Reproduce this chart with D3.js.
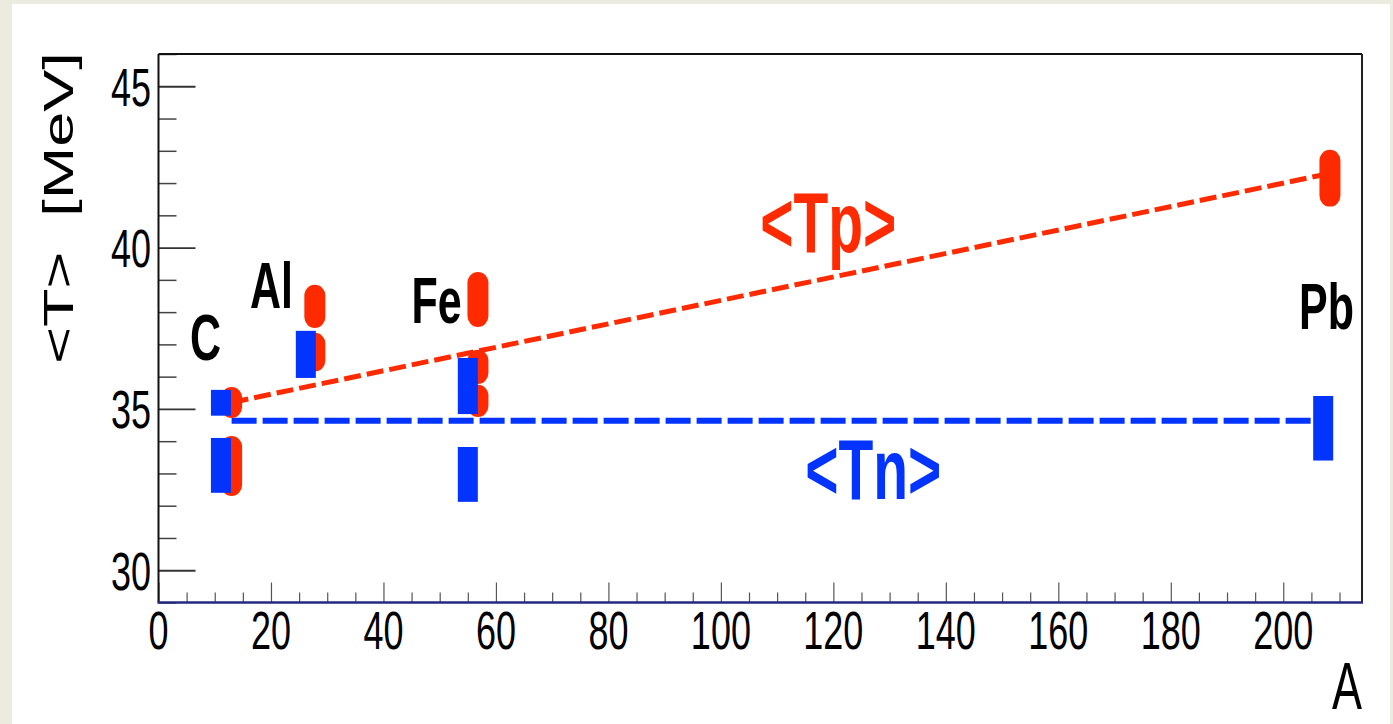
<!DOCTYPE html>
<html>
<head>
<meta charset="utf-8">
<script src="https://cdn.jsdelivr.net/npm/d3@7"></script>
<style>
  html, body { margin: 0; padding: 0; background: #ecebe0; }
  svg { display: block; }
  text { font-family: "Liberation Sans", Arial, Helvetica, sans-serif; white-space: pre; }
</style>
</head>
<body>
<svg id="chart" width="1393" height="724"></svg>
<script>
// Mean temperature <T> of protons and neutrons versus mass number A.
const nuclei = ["C", "Al", "Fe", "Pb"];
const massNumber = [12, 27, 56, 208];

// Proton temperatures (<Tp>): plotted A, central value, half-range
const tpA     = [13.0, 13.0, 27.8, 27.8, 56.8, 56.8, 56.8, 208.3];
const tpValue = [35.20, 33.23, 38.18, 36.76, 38.39, 36.30, 35.25, 42.15];
const tpError = [0.48, 0.93, 0.67, 0.60, 0.85, 0.53, 0.50, 0.88];

// Neutron temperatures (<Tn>)
const tnA     = [11.1, 11.1, 26.2, 55.0, 55.0, 207.1];
const tnValue = [35.19, 33.25, 36.69, 35.71, 32.97, 34.40];
const tnError = [0.40, 0.85, 0.73, 0.87, 0.85, 1.00];

// Trend lines: [A, T] end points
const tpTrend = [[13.0, 35.20], [208.3, 42.30]];
const tnTrend = [[13.0, 34.63], [207.1, 34.63]];

// Axis ticks
const yMajorTicks = [30, 35, 40, 45];
const xMajorTicks = [0, 20, 40, 60, 80, 100, 120, 140, 160, 180, 200];

// Annotation texts
const nucleusLabelPos = [[5.6, 36.52], [16.25, 38.13], [45.0, 37.66], [202.8, 37.48]];
const tpLabel = "<Tp>";
const tnLabel = "<Tn>";
const xTitle = "A";
const yTitle = "<T>  [MeV]";

const RED = "#ff2a00";
const BLUE = "#0333ff";
const STRETCH = 1.5; // vertical stretch of all lettering

const svg = d3.select("#chart");

// white page panel
svg.append("rect").attr("x", 12).attr("y", 4).attr("width", 1378).attr("height", 724)
  .attr("fill", "#ffffff");

const plot = { left: 158.5, right: 1362, top: 54, bottom: 602.5 };
const x = d3.scaleLinear().domain([0, 214]).range([plot.left, plot.right]);
const y = d3.scaleLinear().domain([29, 46]).range([plot.bottom, plot.top]);

// ---- axes ----
const yMinor = d3.range(29, 47, 1).filter(v => !yMajorTicks.includes(v));
const xMinor = d3.range(0, 215, 5).filter(v => !xMajorTicks.includes(v));

const yAxisMajor = d3.axisRight(y).tickValues(yMajorTicks).tickSize(37).tickFormat("");
const yAxisMinor = d3.axisRight(y).tickValues(yMinor).tickSize(18).tickFormat("");
const xAxisMajor = d3.axisTop(x).tickValues(xMajorTicks).tickSize(20).tickFormat("");
const xAxisMinor = d3.axisTop(x).tickValues(xMinor).tickSize(10).tickFormat("");

function styleAxis(g, color, width) {
  g.select(".domain").remove();
  g.selectAll(".tick line").attr("stroke", color).attr("stroke-width", width);
}
svg.append("g").attr("transform", `translate(${plot.left},0)`).call(yAxisMajor).call(styleAxis, "#333", 1.8);
svg.append("g").attr("transform", `translate(${plot.left},0)`).call(yAxisMinor).call(styleAxis, "#444", 1.5);
svg.append("g").attr("transform", `translate(0,${plot.bottom})`).call(xAxisMajor).call(styleAxis, "#555", 1.2);
svg.append("g").attr("transform", `translate(0,${plot.bottom})`).call(xAxisMinor).call(styleAxis, "#555", 1.2);

// frame
svg.append("line").attr("x1", plot.left).attr("x2", plot.right).attr("y1", plot.top).attr("y2", plot.top)
  .attr("stroke", "#111").attr("stroke-width", 2);
svg.append("line").attr("x1", plot.left).attr("x2", plot.left).attr("y1", plot.top).attr("y2", plot.bottom)
  .attr("stroke", "#111").attr("stroke-width", 2);
svg.append("line").attr("x1", plot.right).attr("x2", plot.right).attr("y1", plot.top).attr("y2", plot.bottom)
  .attr("stroke", "#222").attr("stroke-width", 2);
svg.append("line").attr("x1", plot.left - 1).attr("x2", plot.right + 1).attr("y1", plot.bottom).attr("y2", plot.bottom)
  .attr("stroke", "#222a80").attr("stroke-width", 2.4);

// stretched text helper
function stretchedText(parent, str, px, py, opts) {
  return parent.append("text")
    .attr("transform", `translate(${px},${py}) scale(1,${STRETCH})${opts.rotate ? " rotate(-90)" : ""}`)
    .attr("text-anchor", opts.anchor || "start")
    .attr("dominant-baseline", opts.baseline || "auto")
    .attr("font-size", opts.size)
    .attr("font-weight", opts.weight || "normal")
    .attr("fill", opts.color || "#000")
    .text(str);
}

// tick labels
yMajorTicks.forEach(v => {
  stretchedText(svg, String(v), 151, y(v) + 12.9 * STRETCH, { size: 36, anchor: "end" });
});
xMajorTicks.forEach(v => {
  stretchedText(svg, String(v), x(v), plot.bottom + 8 + 25.8 * STRETCH, { size: 36, anchor: "middle" });
});

// axis titles
stretchedText(svg, xTitle, plot.right, 709, { size: 45, anchor: "end" });
stretchedText(svg, yTitle, 73, 208, { size: 42, anchor: "middle", rotate: true });

// ---- trend lines ----
const line = d3.line().x(d => x(d[0])).y(d => y(d[1]));
svg.append("path").datum(tpTrend).attr("d", line)
  .attr("fill", "none").attr("stroke", RED).attr("stroke-width", 5).attr("stroke-dasharray", "17 6");
svg.append("path").datum(tnTrend).attr("d", line)
  .attr("fill", "none").attr("stroke", BLUE).attr("stroke-width", 6).attr("stroke-dasharray", "25 6");

// ---- markers ----
const tpData = tpA.map((a, i) => ({ a, v: tpValue[i], e: tpError[i] }));
const tnData = tnA.map((a, i) => ({ a, v: tnValue[i], e: tnError[i] }));

svg.append("g").selectAll("rect").data(tpData).join("rect")
  .attr("x", d => x(d.a) - 10.5)
  .attr("width", 21)
  .attr("y", d => y(d.v + d.e))
  .attr("height", d => y(d.v - d.e) - y(d.v + d.e))
  .attr("rx", 10.5).attr("ry", 11)
  .attr("fill", RED);

svg.append("g").selectAll("rect").data(tnData).join("rect")
  .attr("x", d => x(d.a) - 10)
  .attr("width", 20)
  .attr("y", d => y(d.v + d.e))
  .attr("height", d => y(d.v - d.e) - y(d.v + d.e))
  .attr("fill", BLUE);

// ---- annotations ----
nuclei.forEach((n, i) => {
  const [a, t] = nucleusLabelPos[i];
  stretchedText(svg, n, x(a), y(t), { size: 43, weight: "bold" });
});
stretchedText(svg, tpLabel, x(119.1), y(39.87), { size: 57, weight: "bold", anchor: "middle", color: RED });
stretchedText(svg, tnLabel, x(127.1), y(32.21), { size: 57, weight: "bold", anchor: "middle", color: BLUE });
</script>
</body>
</html>
